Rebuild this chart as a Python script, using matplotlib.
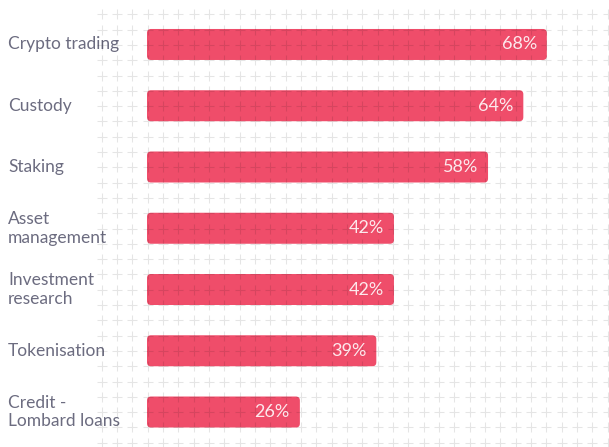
import numpy as np
import matplotlib
matplotlib.use('Agg')
import matplotlib.pyplot as plt
from matplotlib.patches import FancyBboxPatch
from matplotlib.transforms import blended_transform_factory, offset_copy

# Services and share of respondents
services = ['Crypto trading', 'Custody', 'Staking', 'Asset\nmanagement',
            'Investment\nresearch', 'Tokenisation', 'Credit -\nLombard loans']
shares = [68, 64, 58, 42, 42, 39, 26]

bar_color = '#ef4d6a'
label_color = '#6c6c80'
value_color = '#fde9ed'

plt.rcParams['font.family'] = ['Lato', 'DejaVu Sans']

W, H, DPI = 609, 447, 100
fig = plt.figure(figsize=(W / DPI, H / DPI), dpi=DPI)
fig.patch.set_facecolor('white')

# Main bar axes
ax = fig.add_axes([147 / W, 1 - 442.65 / H, 78 * 5.88 / W, 428.8 / H])
ax.set_xlim(0, 78)
ax.set_ylim(len(services) - 0.5, -0.5)
ax.axis('off')

ypos = np.arange(len(services))
bars = ax.barh(ypos, shares, height=0.506, color=bar_color)

# swap plain bars for rounded ones
rx = 0.68
aspect = (4 / 61.3) / rx
for b in bars:
    b.set_visible(False)
    p = FancyBboxPatch((b.get_x(), b.get_y()), b.get_width(), b.get_height(),
                       boxstyle='round,pad=0,rounding_size=%f' % rx,
                       mutation_aspect=aspect, facecolor=bar_color,
                       edgecolor='none', zorder=2)
    ax.add_patch(p)

# category labels on the left edge of the figure
lbl_tr = blended_transform_factory(fig.transFigure, ax.transData)
for y, name in zip(ypos, services):
    ax.text(8 / W, y, name, transform=lbl_tr, ha='left', va='center',
            fontsize=12.5, color=label_color, linespacing=1.2)

# plus pattern laid over the bars
bg = fig.add_axes([0, 0, 1, 1], zorder=5)
bg.set_xlim(0, W)
bg.set_ylim(H, 0)
bg.axis('off')
bg.patch.set_alpha(0)
gx, gy = np.meshgrid(101.7 + 15.33 * np.arange(34), 14.3 + 15.3 * np.arange(29))
bg.plot(gx.ravel(), gy.ravel(), linestyle='none', marker='+', markersize=6.5,
        markeredgewidth=0.8, color='black', alpha=0.1)

# value labels inside the bar ends, kept above the pattern
val_tr = offset_copy(ax.transData, fig=fig, x=-10, y=0, units='dots')
for y, v in zip(ypos, shares):
    fig.text(v, y, '%d%%' % v, transform=val_tr, ha='right', va='center',
             fontsize=13, color=value_color, fontweight='normal', zorder=10)

fig.savefig('out.png', dpi=DPI)
